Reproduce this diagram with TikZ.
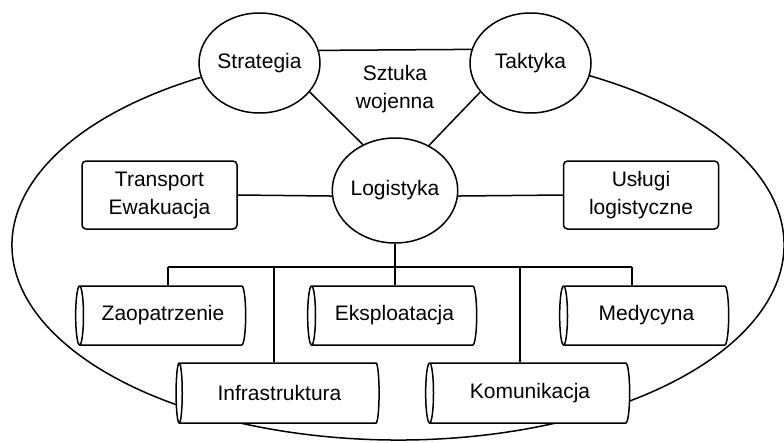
\documentclass[tikz,border=0pt]{standalone}
\usepackage{fontspec}
\setmainfont{Liberation Sans}
\usetikzlibrary{shapes.geometric}
\begin{document}
\begin{tikzpicture}[x=1pt,y=-1pt,line width=1.5pt,
  every node/.style={font=\fontsize{21}{28}\selectfont},
  oval/.style={ellipse,draw,fill=white,minimum width=121pt,minimum height=100pt,inner sep=0pt},
  box/.style={rectangle,draw,fill=white,rounded corners=4pt,minimum width=155pt,minimum height=68pt,align=center,inner sep=0pt},
  cyl/.style={cylinder,shape border rotate=180,draw,fill=white,minimum width=59pt,aspect=0.4,inner sep=0pt}]
\useasboundingbox (0,0) rectangle (784,442);
\coordinate (oc) at (398,245);
\draw (oc) ++(241:386 and 195) arc [start angle=241, end angle=-62, x radius=386, y radius=195];
\node[oval] (strat) at (259.5,63) {Strategia};
\node[oval] (takt) at (530.5,63) {Taktyka};
\node[oval,minimum height=105pt] (log) at (395,190.5) {Logistyka};
\node[align=center] (szt) at (395,89) {Sztuka\\wojenna};
\node[box] (trans) at (159.5,195) {Transport\\Ewakuacja};
\node[box] (usl) at (641,195) {Usługi\\logistyczne};
\node[cyl,minimum height=170pt] (zao) at (163,315.5) {Zaopatrzenie};
\node[cyl,minimum height=169pt] (eks) at (394.5,315.5) {Eksploatacja};
\node[cyl,minimum height=169pt] (med) at (646.5,315.5) {Medycyna};
\node[cyl,minimum height=203pt,minimum width=60pt] (inf) at (279.5,393) {Infrastruktura};
\node[cyl,minimum height=204pt,minimum width=60pt] (kom) at (530,393) {Komunikacja};
\coordinate (j) at (395,267);
\coordinate (tz) at (168,267);
\coordinate (ti) at (274,267);
\coordinate (tk) at (520,267);
\coordinate (tm) at (632,267);
\draw (strat.12.6) -- (takt.167.4);
\draw (strat.-30.2) -- (log.125.4);
\draw (takt.-150.6) -- (log.53.3);
\draw (trans.east) -- (log.185);
\draw (usl.west) -- (log.-5);
\draw (log.south) -- (j);
\draw (tz) -- (tm);
\draw (tz) -- (tz |- zao.north);
\draw (j) -- (j |- eks.north);
\draw (tm) -- (tm |- med.north);
\draw (ti) -- (ti |- inf.north);
\draw (tk) -- (tk |- kom.north);
\end{tikzpicture}
\end{document}
